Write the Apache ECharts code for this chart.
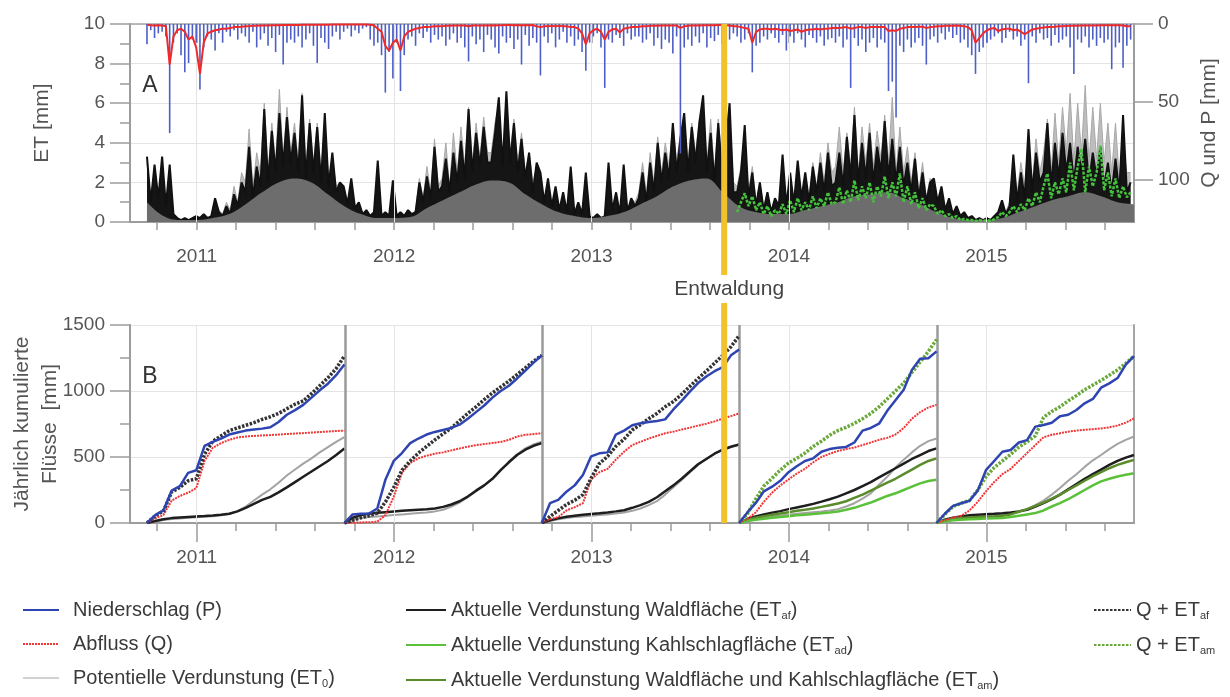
<!DOCTYPE html>
<html><head><meta charset="utf-8">
<script src="https://cdn.jsdelivr.net/npm/echarts@6/dist/echarts.min.js"></script>
<style>html,body{margin:0;padding:0;background:#fff}#c{width:1230px;height:697px}</style>
</head><body><div id="c"></div>
<script>
// ================= DATA =================
const axisStart = 2010.662, axisEnd = 2015.748;
const seriesStart = 2010.748;            // 1 Oct 2010 (decimal year)
const weekStep = 7 / 365.25;             // weekly samples in panel A
const deforestation = 2013.672;          // "Entwaldung"
const hydroYearStarts = [2010.748, 2011.748, 2012.748, 2013.748, 2014.748];
const yearLabels = [2011, 2012, 2013, 2014, 2015];
const minorTickValues = [2010.8, 2011, 2011.2, 2011.4, 2011.6, 2011.8, 2012, 2012.2, 2012.4, 2012.6, 2012.8,
  2013, 2013.2, 2013.4, 2013.6, 2013.8, 2014, 2014.2, 2014.4, 2014.6, 2014.8, 2015, 2015.2, 2015.4, 2015.6];
const qpTicks = [0, 50, 100];

// Panel A: weekly ET0 [mm] (starting 1 Oct 2010)
const et0Weekly = [
 3.0,1.2,2.5,1.0,2.8,0.8,2.2,0.4,0.2,0.1,0.2,0.1,0.2,
 0.2,0.2,0.3,0.2,0.3,1.0,0.6,0.4,1.0,0.6,1.8,1.0,2.5,
 2.0,4.7,1.8,3.5,2.5,6.0,2.5,5.0,3.0,6.7,3.2,5.8,3.5,
 5.0,3.0,6.5,2.8,5.2,3.0,5.0,2.5,5.2,2.2,3.2,1.8,2.0,
 1.6,0.8,1.8,0.6,0.9,0.4,0.5,0.3,0.5,2.5,0.3,0.4,0.3,
 1.5,0.3,0.5,0.3,0.5,0.4,0.6,2.2,1.2,2.8,1.5,4.2,1.8,
 2.2,4.0,1.8,4.5,2.5,4.8,2.8,5.8,3.0,5.0,3.2,5.3,3.5,
 3.5,5.0,6.0,3.2,6.2,3.5,5.2,3.0,4.5,2.5,3.5,2.0,2.8,
 2.2,1.0,2.0,0.8,1.5,0.6,1.2,0.5,2.2,0.4,0.8,0.4,1.8,
 0.3,0.2,0.3,0.2,0.3,2.5,0.6,1.2,0.5,2.5,0.6,1.2,1.0,
 1.5,3.0,1.4,3.5,2.0,4.3,2.5,4.0,2.8,5.0,3.0,4.5,5.2,
 3.0,5.0,3.5,5.2,6.0,3.0,5.2,2.5,5.2,3.0,4.3,5.5,2.0,
 1.8,2.8,4.5,1.5,2.8,1.0,2.0,0.7,1.5,0.5,1.0,0.8,2.5,
 0.7,2.0,0.9,2.5,1.2,2.4,1.2,3.0,1.8,3.5,2.0,4.0,2.5,
 2.8,4.8,2.5,4.5,2.8,5.8,2.5,4.8,3.0,5.0,2.8,4.6,3.2,
 5.4,3.0,6.3,2.5,4.8,2.5,3.8,2.0,3.5,1.5,3.0,1.2,2.2,
 2.0,1.0,1.5,0.6,1.0,0.4,0.7,0.3,0.4,0.2,0.3,0.1,0.2,
 0.1,0.2,0.1,0.3,0.5,1.0,0.5,1.0,2.8,1.5,3.0,1.8,4.0,
 2.0,4.2,2.5,3.5,5.2,2.5,5.5,3.0,5.8,3.5,6.5,3.0,6.0,
 3.5,6.9,3.0,5.8,3.2,6.0,3.0,5.0,2.5,5.0,2.2,4.0,2.5,
 2.5];

// Panel A: weekly ET_af [mm]
const etafWeekly = [
 3.3,1.0,2.9,1.2,3.3,0.8,2.9,0.4,0.2,0.1,0.2,0.1,0.2,
 0.3,0.2,0.4,0.2,0.3,1.2,0.5,0.3,0.8,0.4,1.4,0.8,2.0,
 1.5,3.8,1.2,2.8,1.8,5.7,2.0,4.6,2.5,5.5,2.8,5.3,3.0,
 4.5,2.5,6.4,2.2,5.0,2.5,4.8,2.0,5.5,1.8,3.5,1.5,2.0,
 1.8,0.9,2.2,0.7,1.0,0.4,0.6,0.3,0.5,3.1,0.3,0.5,0.3,
 2.1,0.3,0.5,0.3,0.6,0.4,0.5,2.0,1.0,2.3,1.2,3.8,1.5,
 1.8,3.2,1.5,3.5,2.0,4.1,2.2,5.7,2.5,4.5,2.8,4.8,3.0,
 3.0,4.5,6.3,2.8,6.6,3.0,5.0,2.5,4.2,2.2,3.5,1.5,3.0,
 2.5,1.0,2.2,0.8,1.8,0.6,1.5,0.5,2.8,0.4,1.0,0.4,2.5,
 0.3,0.2,0.4,0.2,0.3,3.0,0.6,1.5,0.4,2.9,0.5,1.2,0.8,
 1.2,2.5,1.0,3.0,1.5,4.0,2.0,3.5,2.2,5.0,2.5,4.2,5.5,
 2.5,4.8,3.0,5.0,6.4,2.5,4.5,2.0,5.0,2.5,4.0,6.0,1.5,
 1.5,2.5,4.9,1.2,2.5,0.8,2.0,0.6,1.5,0.5,1.2,0.8,3.4,
 0.8,2.5,0.9,3.1,1.2,2.5,1.0,2.8,1.5,3.0,1.5,3.5,1.8,
 2.0,3.5,1.8,4.3,2.2,5.4,2.0,4.0,2.2,4.5,2.0,3.8,2.5,
 5.1,2.2,4.2,2.0,3.8,1.8,3.0,1.5,3.2,1.2,2.5,1.0,2.0,
 2.2,1.0,1.8,0.6,1.2,0.4,0.8,0.3,0.5,0.2,0.3,0.1,0.2,
 0.1,0.2,0.1,0.3,0.5,1.1,0.4,0.8,3.4,1.0,2.5,1.2,4.7,
 1.5,3.5,2.0,2.5,5.0,1.8,4.0,2.2,4.5,2.5,4.0,2.0,3.8,
 2.5,4.2,2.0,3.5,2.2,3.8,1.8,3.0,1.5,3.2,1.5,5.4,1.5,
 2.0];

// Panel A: weekly ET_am [mm], starting with week 156 (Oct 2013)
const etamStartWeek = 156;
const etamWeekly = [
 0.5,1.0,1.45,0.8,1.3,0.6,1.0,0.4,0.8,0.3,0.6,0.4,0.9,
 0.4,1.1,0.5,1.2,0.6,1.0,0.6,1.3,0.7,1.2,0.8,1.5,0.9,
 1.0,1.75,0.9,1.6,1.0,2.1,1.1,1.8,1.2,2.0,1.0,1.8,1.3,
 2.3,1.2,2.0,1.3,2.45,1.0,1.8,0.9,1.5,0.7,1.2,0.6,0.9,
 0.8,0.4,0.6,0.3,0.4,0.2,0.3,0.1,0.15,0.1,0.1,0.05,0.1,
 0.05,0.1,0.05,0.15,0.25,0.5,0.3,0.5,0.8,0.5,0.9,0.6,1.2,
 0.8,1.5,1.0,1.8,2.45,1.2,2.0,1.4,2.2,1.5,3.0,1.6,2.8,
 3.7,1.5,2.8,1.8,2.5,3.85,1.6,2.5,1.3,2.2,1.2,1.8,1.25,
 1.5];

// Panel A: monthly lower envelope of ET (dark grey area) [mm]
const etBaseMonthly = [
 1.0,0.3,0.1,0.1,0.2,0.4,0.9,1.5,2.0,2.2,2.0,1.4,
 0.8,0.4,0.2,0.2,0.25,0.7,1.1,1.5,1.9,2.1,2.0,1.4,
 0.9,0.5,0.3,0.2,0.3,0.5,0.9,1.3,1.8,2.1,2.2,1.5,
 0.8,0.5,0.4,0.4,0.6,0.8,1.0,1.3,1.4,1.5,1.2,0.9,
 0.5,0.2,0.1,0.1,0.2,0.5,0.8,1.1,1.3,1.5,1.3,1.0,0.9];

// Panel A: weekly maximum precipitation P [mm]
const pWeekly = [
 13,4,9,6,5,8,70,12,6,20,31,25,10,
 12,42,15,8,10,17,6,12,5,8,4,10,6,
 8,12,5,15,10,6,14,9,18,7,26,12,10,
 12,8,15,10,6,14,25,9,12,16,8,5,10,
 5,3,8,4,6,3,2,10,14,12,20,44,18,
 35,12,43,20,10,8,14,6,9,5,12,7,10,
 8,14,10,6,12,9,15,24,8,13,10,18,7,
 10,15,19,8,12,9,16,10,26,7,14,9,12,
 33,8,12,6,15,10,5,12,8,14,10,18,30,
 12,8,6,15,41,10,12,7,9,14,6,10,8,
 8,12,10,6,14,9,16,10,12,19,8,83,15,
 10,14,8,12,6,15,9,11,7,13,8,10,6,
 8,12,10,6,31,14,12,8,10,6,9,12,7,
 17,8,12,6,10,15,7,9,12,8,14,10,9,
 12,8,15,10,41,9,14,10,18,12,9,15,10,
 12,43,37,60,14,18,10,15,12,9,14,26,10,
 8,12,6,10,5,9,7,12,10,15,20,32,18,
 15,12,10,8,6,12,9,5,10,8,14,10,38,
 8,12,6,10,9,14,7,12,10,8,15,32,10,
 12,8,15,10,14,9,12,10,29,15,12,28,14,
 10];

// Panel A: weekly discharge Q [mm]
const qWeekly = [
 0.5,0.8,1.0,0.8,1.0,1.5,26,8,4,3,5,10,8,
 15,32,12,6,5,4,3.5,3,3,2.5,2,2,1.8,
 1.5,1.5,1.2,1.2,1,1,1,0.8,0.8,0.8,0.7,0.7,0.6,
 0.6,0.6,0.5,0.5,0.5,0.5,0.5,0.5,0.5,0.5,0.4,0.4,0.4,
 0.4,0.4,0.4,0.4,0.4,0.4,0.4,0.5,1,3,5,14,17,
 12,10,17,8,5,4,3,2.5,2,2,1.8,1.5,1.5,
 1.5,1.2,1.2,1,1,1,1,1.5,1,1,1,1,1,
 0.8,1,0.8,0.8,0.7,0.7,0.8,0.7,1,0.7,0.8,0.7,1.5,
 2,1.5,1.5,1.2,1.5,1.2,1.5,1.5,2,2,3,6,13,
 6,4,3,5,10,5,3.5,3,5.5,3,2.5,2,2,
 1.8,1.5,1.5,1.2,1.2,1.2,1,1,1,1,1,2.5,1.5,
 1.2,1,1,1,0.8,0.8,0.8,0.8,0.7,0.7,0.8,1,1.5,
 1.5,2,2.5,3,12,5,3.5,3,3,3.5,3,3.5,4,
 3.5,4.5,4,3.5,5,4,3.5,3.5,3,3.5,3,3,2.5,
 2.5,2.5,2.2,2,3,2.5,2,2,2.5,2,2,2,2,
 2,4.5,4,4.5,3,2.5,2,2,2,1.8,1.8,2.5,2,
 1.8,1.5,1.5,1.2,1.2,1.2,1,1.2,1.5,2,4,12,9,
 6,4,3,2.5,4.5,3.5,3,3,4,3.5,5,6.5,5,
 3.5,3,2.5,2.2,2,2,1.8,1.5,1.5,1.3,1.2,1.2,1.2,
 1,1,1,1,0.9,0.8,0.8,0.8,0.8,0.8,0.8,1,1.5,
 1.5];

// Panel B: yearly cumulated fluxes [mm], half-monthly steps from 1 Oct of each hydrological year
const cumP = [
 [0,60,95,245,280,380,400,585,615,640,670,685,700,708,715,725,765,820,855,895,950,1005,1055,1120,1200],
 [0,65,70,72,110,330,470,530,605,640,670,690,705,720,745,790,840,890,950,1000,1040,1095,1155,1215,1270],
 [0,150,175,237,285,364,505,528,535,670,700,740,755,765,772,785,860,925,995,1060,1110,1150,1180,1270,1315],
 [0,80,150,240,275,320,385,430,470,490,540,560,570,576,610,700,720,752,850,930,1010,1160,1245,1248,1300],
 [0,70,130,150,168,245,400,470,540,553,610,628,730,742,760,808,820,856,907,940,1025,1058,1098,1200,1265]];
const cumQ = [
 [0,35,60,170,205,230,265,470,570,605,630,648,655,660,663,666,670,674,678,681,685,689,693,697,700],
 [0,2,4,6,10,60,200,380,455,490,510,525,535,550,565,578,590,598,606,614,630,655,668,674,680],
 [0,30,45,95,120,150,330,385,410,480,540,590,615,640,660,680,692,708,722,738,752,770,790,810,830],
 [0,30,80,160,230,285,330,375,410,460,500,525,545,560,572,590,610,630,645,670,720,790,840,875,895],
 [0,20,40,55,95,160,240,310,370,410,470,530,590,650,668,680,692,700,706,711,716,725,738,760,792]];
const cumET0 = [
 [0,12,22,30,35,40,44,48,52,58,68,90,125,170,215,255,305,360,405,450,490,535,575,615,650],
 [0,25,38,45,50,55,60,65,70,75,80,88,100,125,155,195,240,285,335,400,465,520,565,595,615],
 [0,15,28,38,45,50,55,60,65,72,80,92,110,135,165,215,270,325,385,440,485,525,555,578,595],
 [0,15,28,40,50,57,63,70,76,82,88,95,105,125,150,185,225,290,350,420,480,535,585,620,640],
 [0,15,28,38,45,50,55,58,62,70,85,105,135,170,215,265,320,370,425,475,515,560,600,630,655]];
const cumETaf = [
 [0,15,28,37,42,46,50,53,57,62,70,88,115,145,175,198,232,270,310,350,390,430,470,515,565],
 [0,40,60,70,77,82,87,92,96,100,104,110,122,140,165,200,245,285,335,400,460,515,555,585,605],
 [0,20,35,48,55,62,68,73,80,88,97,115,135,160,195,240,285,335,390,445,485,525,555,578,595],
 [0,30,50,65,78,90,105,118,130,145,162,180,200,225,250,280,310,345,380,415,450,485,515,545,565],
 [0,25,40,50,58,63,67,70,74,80,88,100,125,150,180,215,255,295,335,370,405,440,470,495,515]];
const cumETam = [   // hydrological years 2014, 2015
 [0,25,40,52,62,72,82,92,100,110,122,135,148,165,190,215,245,275,305,335,370,405,440,470,490],
 [0,20,32,38,42,45,48,50,54,65,85,105,130,155,185,215,250,285,320,355,385,415,440,460,478]];
const cumETad = [   // hydrological years 2014, 2015
 [0,15,25,33,40,46,52,58,63,68,74,80,87,100,115,135,155,180,205,225,250,275,300,318,328],
 [0,12,20,25,28,31,34,36,38,45,55,65,75,95,125,150,180,215,250,285,315,335,352,365,377]];
const cumQETaf = [  // hydrological years 2011-2013
 [0,55,90,235,270,320,335,520,620,660,700,720,740,760,785,805,830,865,900,925,980,1040,1100,1170,1265],
 [0,20,40,55,75,160,270,400,470,530,580,630,675,720,775,830,880,935,985,1030,1075,1125,1175,1225,1270],
 [0,50,95,140,172,215,340,450,505,580,635,705,745,790,830,880,920,975,1035,1095,1150,1210,1270,1335,1420]];
const cumQETam = [  // hydrological years 2014, 2015
 [0,70,180,280,340,400,455,490,530,580,620,665,700,725,755,790,830,880,940,1000,1060,1140,1220,1300,1390],
 [0,65,125,150,170,250,350,420,470,520,575,615,660,800,845,880,925,965,1010,1045,1080,1120,1160,1210,1265]];

// Legend names
const N_P = 'Niederschlag (P)', N_Q = 'Abfluss (Q)', N_ET0 = 'Potentielle Verdunstung (ET0)';
const N_ETAF = 'Aktuelle Verdunstung Waldfläche (ETaf)';
const N_ETAD = 'Aktuelle Verdunstung Kahlschlagfläche (ETad)';
const N_ETAM = 'Aktuelle Verdunstung Waldfläche und Kahlschlagfläche (ETam)';
const N_QAF = 'Q + ETaf', N_QAM = 'Q + ETam';

// ================= BUILD =================
const FONT = 'Liberation Sans, Arial, Helvetica, sans-serif';
const weekPts = (arr, off) => arr.map((v, i) => [seriesStart + (i + off) * weekStep, v]);
const monthPts = arr => arr.map((v, m) => [seriesStart + m / 12, v]);
function cumPts(years, firstIdx) {
  const out = [];
  years.forEach((arr, j) => {
    const s = hydroYearStarts[firstIdx + j];
    arr.forEach((v, k) => out.push([s + k / 24, v]));
    out.push([s + 1, '-']);
  });
  return out;
}
const yearGridLines = {
  silent: true, symbol: ['none', 'none'], label: { show: false },
  lineStyle: { color: '#e4e4e4', width: 1, type: 'solid' },
  data: yearLabels.map(y => ({ xAxis: y }))
};
const sepLines = {
  silent: true, symbol: ['none', 'none'], label: { show: false },
  lineStyle: { color: '#9a9a9a', width: 2.5, type: 'solid' },
  data: hydroYearStarts.slice(1).map(v => ({ xAxis: v }))
};

const tickLbl = { color: '#555', fontSize: 19, fontFamily: FONT };
const axisGrey = { color: '#9c9c9c', width: 2 };

function xAxes(gridIndex, withTop) {
  const a = [
    { gridIndex, type: 'value', min: axisStart, max: axisEnd, position: 'bottom',
      axisLine: { lineStyle: axisGrey },
      axisTick: { show: true, customValues: minorTickValues, length: 8, lineStyle: { color: '#9c9c9c', width: 1.5 } },
      axisLabel: { show: false }, splitLine: { show: false } },
    { gridIndex, type: 'value', min: axisStart, max: axisEnd, position: 'bottom',
      axisLine: { show: false },
      axisTick: { show: true, customValues: yearLabels, length: 19, lineStyle: { color: '#9c9c9c', width: 1.5 } },
      axisLabel: Object.assign({ customValues: yearLabels, margin: 25, formatter: v => String(Math.round(v)) }, tickLbl),
      splitLine: { show: false } }
  ];
  if (withTop) a.push({ gridIndex, type: 'value', min: axisStart, max: axisEnd, position: 'top',
      axisLine: { lineStyle: { color: '#a5a5a5', width: 1.5 } }, axisTick: { show: false },
      axisLabel: { show: false }, splitLine: { show: false } });
  return a;
}

const richBase = {
  n: { fontSize: 20, lineHeight: 22, color: '#3a3a3a', fontFamily: FONT },
  f: { fontSize: 20, lineHeight: 22, color: '#3a3a3a', fontFamily: FONT, padding: [0, 0, 0, 9] },
  s: { fontSize: 11, lineHeight: 10, verticalAlign: 'bottom', color: '#3a3a3a', fontFamily: FONT }
};
function legendText(name, first) {
  const m = name.match(/^(.*ET)(0|af|ad|am)(\)?)$/);
  const t = first ? 'f' : 'n';
  if (!m) return '{' + t + '|' + name + '}';
  return '{' + t + '|' + m[1] + '}{s|' + m[2] + '}' + (m[3] ? '{n|' + m[3] + '}' : '');
}
function mkLegend(left, itemWidth, data, first) {
  return { left, top: 600, padding: 0, orient: 'vertical', itemWidth, itemHeight: 14, itemGap: 14,
    selectedMode: false, data, formatter: n => legendText(n, first),
    itemStyle: { color: 'rgba(0,0,0,0)', borderWidth: 0, opacity: 0 },
    textStyle: { rich: richBase, fontFamily: FONT } };
}

const option = {
  animation: false,
  backgroundColor: '#ffffff',
  textStyle: { fontFamily: FONT },
  grid: [
    { left: 130, top: 24, width: 1004, height: 198, containLabel: false, outerBoundsMode: 'none' },
    { left: 130, top: 325, width: 1004, height: 198, containLabel: false, outerBoundsMode: 'none' }
  ],
  xAxis: [...xAxes(0, true), ...xAxes(1, false)],
  yAxis: [
    { gridIndex: 0, type: 'value', min: 0, max: 10, interval: 2, position: 'left',
      axisLine: { show: true, lineStyle: axisGrey },
      axisTick: { show: true, length: 20, lineStyle: { color: '#9c9c9c', width: 1.5 } },
      minorTick: { show: true, splitNumber: 2, length: 10, lineStyle: { color: '#9c9c9c', width: 1.5 } },
      axisLabel: Object.assign({ margin: 25, formatter: v => String(v) }, tickLbl),
      splitLine: { show: true, lineStyle: { color: '#e4e4e4', width: 1 } },
      name: 'ET [mm]', nameLocation: 'middle', nameRotate: 90, nameGap: 77, nameMoveOverlap: false,
      nameTextStyle: { fontSize: 21, color: '#555', fontFamily: FONT } },
    { gridIndex: 0, type: 'value', min: 0, max: 127, inverse: true, position: 'right',
      axisLine: { show: true, lineStyle: axisGrey },
      axisTick: { show: true, customValues: qpTicks, length: 19, lineStyle: { color: '#9c9c9c', width: 1.5 } },
      axisLabel: Object.assign({ customValues: qpTicks, margin: 24, formatter: v => String(v) }, tickLbl),
      splitLine: { show: false },
      name: 'Q und P [mm]', nameLocation: 'middle', nameRotate: 90, nameGap: 65, nameMoveOverlap: false,
      nameTextStyle: { fontSize: 21, color: '#555', fontFamily: FONT } },
    { gridIndex: 1, type: 'value', min: 0, max: 1500, interval: 500, position: 'left',
      axisLine: { show: true, lineStyle: axisGrey },
      axisTick: { show: true, length: 20, lineStyle: { color: '#9c9c9c', width: 1.5 } },
      minorTick: { show: true, splitNumber: 2, length: 10, lineStyle: { color: '#9c9c9c', width: 1.5 } },
      axisLabel: Object.assign({ margin: 25, formatter: v => String(v) }, tickLbl),
      splitLine: { show: true, lineStyle: { color: '#e4e4e4', width: 1 } },
      name: 'Jährlich kumulierte\nFlüsse  [mm]', nameLocation: 'middle', nameRotate: 90, nameGap: 66, nameMoveOverlap: false,
      nameTextStyle: { fontSize: 21, lineHeight: 28, color: '#555', fontFamily: FONT } },
    { gridIndex: 1, type: 'value', min: 0, max: 1500, position: 'right',
      axisLine: { show: true, lineStyle: { color: '#a5a5a5', width: 2 } },
      axisTick: { show: false }, axisLabel: { show: false }, splitLine: { show: false } }
  ],
  legend: [
    mkLegend(22, 36, [
      { name: N_P }, { name: N_Q }, { name: N_ET0, lineStyle: { color: '#d2d2d2' } }], true),
    mkLegend(405, 40, [{ name: N_ETAF }, { name: N_ETAD }, { name: N_ETAM }], false),
    mkLegend(1093, 37, [{ name: N_QAF }, { name: N_QAM }], false)
  ],
  series: [
    // ---------- Panel A ----------
    { name: 'ET0 A', type: 'line', xAxisIndex: 0, yAxisIndex: 0, data: weekPts(et0Weekly, 0), symbol: 'none', z: 1,
      lineStyle: { color: '#a8a8a8', width: 1 }, areaStyle: { color: '#bdbdbd', opacity: 1 }, markLine: yearGridLines },
    { name: 'ETaf A', type: 'line', xAxisIndex: 0, yAxisIndex: 0, data: weekPts(etafWeekly, 0), symbol: 'none', z: 2,
      lineStyle: { color: '#111', width: 2 }, areaStyle: { color: '#151515', opacity: 1 } },
    { name: 'ET base A', type: 'line', xAxisIndex: 0, yAxisIndex: 0, data: monthPts(etBaseMonthly), symbol: 'none', z: 3,
      smooth: 0.4, lineStyle: { width: 0 }, areaStyle: { color: '#6d6d6d', opacity: 1 } },
    { name: 'ETam A', type: 'line', xAxisIndex: 0, yAxisIndex: 0, data: weekPts(etamWeekly, etamStartWeek), symbol: 'none', z: 4,
      lineStyle: { color: '#45c23c', width: 2.5, type: [3, 1.5] } },
    { name: 'P A', type: 'bar', xAxisIndex: 0, yAxisIndex: 1, data: weekPts(pWeekly, 0), barWidth: 1.6, z: 5,
      itemStyle: { color: '#4d5fc6' } },
    { name: 'Q A', type: 'line', xAxisIndex: 0, yAxisIndex: 1, data: weekPts(qWeekly, 0), symbol: 'none', z: 6,
      lineStyle: { color: '#ef2a2a', width: 2 } },
    // ---------- Panel B ----------
    { name: N_ET0, type: 'line', xAxisIndex: 3, yAxisIndex: 2, data: cumPts(cumET0, 0), symbol: 'none', z: 2,
      lineStyle: { color: '#a3a3a3', width: 2 }, itemStyle: { color: '#a3a3a3' }, markLine: yearGridLines },
    { name: N_ETAF, type: 'line', xAxisIndex: 3, yAxisIndex: 2, data: cumPts(cumETaf, 0), symbol: 'none', z: 3,
      lineStyle: { color: '#1e1e1e', width: 2.5 }, itemStyle: { color: '#1e1e1e' } },
    { name: N_ETAM, type: 'line', xAxisIndex: 3, yAxisIndex: 2, data: cumPts(cumETam, 3), symbol: 'none', z: 4,
      lineStyle: { color: '#5b8c2b', width: 2.5 }, itemStyle: { color: '#5b8c2b' } },
    { name: N_ETAD, type: 'line', xAxisIndex: 3, yAxisIndex: 2, data: cumPts(cumETad, 3), symbol: 'none', z: 4,
      lineStyle: { color: '#5cc13a', width: 2.5 }, itemStyle: { color: '#5cc13a' } },
    { name: N_Q, type: 'line', xAxisIndex: 3, yAxisIndex: 2, data: cumPts(cumQ, 0), symbol: 'none', z: 5,
      lineStyle: { color: '#f03535', width: 2, type: [2, 1] }, itemStyle: { color: '#f03535' } },
    { name: N_QAF, type: 'line', xAxisIndex: 3, yAxisIndex: 2, data: cumPts(cumQETaf, 0), symbol: 'none', z: 6,
      lineStyle: { color: '#333333', width: 3.5, type: [2.5, 1.5] }, itemStyle: { color: '#333333' } },
    { name: N_QAM, type: 'line', xAxisIndex: 3, yAxisIndex: 2, data: cumPts(cumQETam, 3), symbol: 'none', z: 6,
      lineStyle: { color: '#6aa83a', width: 3.5, type: [2.5, 1.5] }, itemStyle: { color: '#6aa83a' } },
    { name: N_P, type: 'line', xAxisIndex: 3, yAxisIndex: 2, data: cumPts(cumP, 0), symbol: 'none', z: 7,
      lineStyle: { color: '#2e44b0', width: 2.5 }, itemStyle: { color: '#2e44b0' }, markLine: sepLines }
  ],
  graphic: [
    { type: 'text', x: 150, y: 86, z: 50, style: { text: 'A', fontSize: 23, fill: '#333', align: 'center', verticalAlign: 'middle', fontFamily: FONT } },
    { type: 'text', x: 150, y: 377, z: 50, style: { text: 'B', fontSize: 23, fill: '#333', align: 'center', verticalAlign: 'middle', fontFamily: FONT } }
  ]
};

const chart = echarts.init(document.getElementById('c'), null, { renderer: 'canvas', width: 1230, height: 697 });
chart.setOption(option);

// Deforestation marker positioned through the chart's own scales
const px = chart.convertToPixel({ xAxisIndex: 0 }, deforestation);
const yTop = chart.convertToPixel({ yAxisIndex: 0 }, 10);
const yBot = chart.convertToPixel({ yAxisIndex: 2 }, 0);
chart.setOption({
  graphic: option.graphic.concat([
    { type: 'rect', z: 100, shape: { x: px - 3, y: yTop, width: 6, height: 275 - yTop }, style: { fill: '#f2c12e' } },
    { type: 'rect', z: 100, shape: { x: px - 3, y: 303, width: 6, height: yBot - 303 }, style: { fill: '#f2c12e' } },
    { type: 'text', x: px + 5, y: 289, z: 100, style: { text: 'Entwaldung', fontSize: 21, fill: '#444', align: 'center', verticalAlign: 'middle', fontFamily: FONT } }
  ])
});
</script>
</body></html>
